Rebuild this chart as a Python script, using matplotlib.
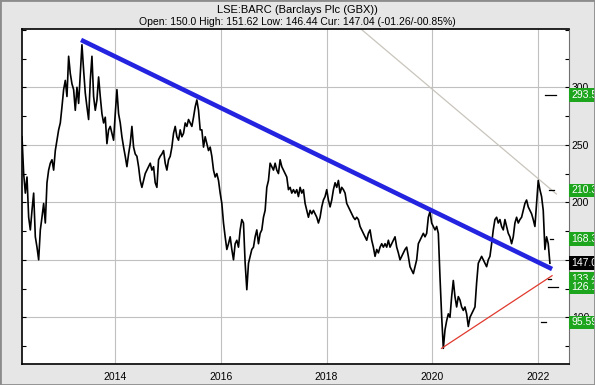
import matplotlib
matplotlib.use('Agg')
import matplotlib.pyplot as plt
import matplotlib.dates as mdates
import matplotlib.transforms as mtransforms
from matplotlib.patches import Rectangle
from matplotlib.ticker import MultipleLocator, FixedLocator
import pandas as pd

plt.rcParams['font.family'] = ['Liberation Sans', 'DejaVu Sans']

# price readings (GBX), sampled roughly every 11-12 days, Mar 2012 -> Mar 2022
prices = [
    257, 225, 208, 222, 187, 176, 193, 208, 170, 161,
    150, 176, 187, 199, 182, 217, 228, 234, 237, 228,
    245, 254, 263, 269, 283, 298, 306, 292, 327, 312,
    303, 298, 280, 300, 286, 312, 337, 315, 295, 283,
    272, 306, 327, 292, 280, 289, 309, 292, 277, 269,
    274, 251, 263, 266, 260, 254, 277, 298, 277, 269,
    257, 248, 240, 231, 242, 251, 266, 248, 242, 240,
    231, 219, 213, 219, 225, 228, 231, 234, 228, 231,
    217, 213, 237, 240, 242, 245, 234, 228, 237, 240,
    248, 260, 266, 257, 254, 263, 257, 260, 269, 266,
    272, 269, 266, 274, 283, 289, 280, 263, 263, 248,
    257, 251, 245, 248, 240, 228, 222, 225, 219, 208,
    199, 182, 170, 159, 164, 170, 159, 150, 164, 167,
    161, 176, 185, 182, 147, 124, 147, 153, 159, 161,
    170, 176, 164, 173, 176, 187, 193, 213, 219, 234,
    231, 228, 234, 228, 225, 237, 231, 228, 225, 222,
    211, 213, 208, 211,
    208, 211, 205, 213, 208, 211, 199, 193, 187, 193,
    190, 193, 190, 187, 182, 187, 196, 202, 205, 211,
    202, 196, 202, 211, 217, 213, 219, 208, 213, 211,
    208, 199, 196, 193, 190, 187, 185, 187, 185, 179,
    176, 173, 170, 167, 173, 176, 167, 161, 153, 159,
    156, 161, 164, 161, 164, 161, 167, 161, 164, 167,
    170, 161, 156, 150, 153, 156, 159, 161, 153, 144,
    141, 138, 144, 150, 164, 167, 170, 173, 170, 173,
    187, 192, 182, 179, 176, 179, 173, 135, 101, 73,
    89, 97, 103, 100, 118, 132, 118, 109, 118, 115,
    109, 106, 109, 103, 92, 100, 103, 106, 109, 130,
    147, 150, 153, 150, 147, 144, 150, 153, 164, 176,
    185, 187, 182, 185, 179, 176, 185, 179, 173, 170,
    164, 170, 182, 187, 182, 185, 187, 193, 199, 202,
    196, 193, 190, 185, 179, 199, 219, 211, 205, 193,
    159, 170, 164, 147,
]
dates = pd.date_range('2012-03-28', '2022-03-24', periods=len(prices))

# trend lines
down_dates = pd.to_datetime(['2013-05-10', '2022-04-08'])
down_vals = [341.2, 142.0]
up_dates = pd.to_datetime(['2020-03-05', '2022-04-08'])
up_vals = [73.0, 136.2]
res_dates = pd.to_datetime(['2018-08-29', '2022-05-08'])
res_vals = [350.4, 207.2]

# target levels and their markers
target_labels = ['293.50', '210.30', '168.30', '133.40', '126.10', '95.59']
target_vals = [293.5, 210.3, 168.3, 133.4, 126.1, 95.59]
target_start = pd.to_datetime(['2022-02-19', '2022-03-18', '2022-03-25',
                               '2022-03-11', '2022-03-11', '2022-01-23'])
target_end = pd.to_datetime(['2022-05-06', '2022-04-22', '2022-04-15',
                             '2022-04-01', '2022-05-20', '2022-02-26'])
current = 147.04

price_ticks = [100, 150, 200, 250, 300]

title = 'LSE:BARC (Barclays Plc (GBX))'
subtitle = 'Open: 150.0 High: 151.62 Low: 146.44 Cur: 147.04 (-01.26/-00.85%)'

W, H = 595, 385
fig = plt.figure(figsize=(W / 100, H / 100), dpi=100, facecolor='#e6e6e6')
ax = fig.add_axes([22 / W, 21 / H, 547 / W, 335 / H])
ax.set_facecolor('white')

ax.plot(dates, prices, color='black', lw=1.2, zorder=3)
ax.plot(down_dates, down_vals, color='#2424e0', lw=3.3, solid_capstyle='butt', zorder=4)
ax.plot(up_dates, up_vals, color='#e03a2e', lw=0.9, zorder=4)
ax.plot(res_dates, res_vals, color='#c9c5bd', lw=0.9, zorder=2)
for v, s, e in zip(target_vals, target_start, target_end):
    ax.plot([s, e], [v, v], color='black', lw=0.9, zorder=4)

ax.set_xlim(pd.Timestamp('2012-03-28'), pd.Timestamp('2022-08-03'))
ax.set_ylim(59.4, 350.7)

ax.xaxis.set_major_locator(mdates.YearLocator(2))
ax.xaxis.set_major_formatter(mdates.DateFormatter('%Y'))
ax.yaxis.set_major_locator(FixedLocator(price_ticks))
ax.yaxis.set_minor_locator(MultipleLocator(25))
ax.grid(True, which='major', color='#c0c0c0', lw=0.8)
ax.set_axisbelow(True)

ax.tick_params(axis='x', length=0, labelsize=7.5, pad=6)
ax.tick_params(axis='y', which='both', direction='in', left=True, right=True,
               labelleft=False, labelright=True, labelsize=7.5, pad=2,
               length=3, width=0.8)
for sp in ['left', 'bottom', 'top']:
    ax.spines[sp].set_linewidth(1.2)
    ax.spines[sp].set_color('black')
ax.spines['right'].set_color('#707070')

trans = mtransforms.blended_transform_factory(ax.transAxes, ax.transData)
for lab, v in zip(target_labels, target_vals):
    ax.text(1.004, v, lab, transform=trans, color='white', fontsize=7.5,
            va='center', ha='left', clip_on=False, zorder=6,
            bbox=dict(boxstyle='square,pad=0.18', fc='#1ea51e', ec='none'))
ax.text(1.004, current, '%.2f' % current, transform=trans, color='white',
        fontsize=7.5, va='center', ha='left', clip_on=False, zorder=6,
        bbox=dict(boxstyle='square,pad=0.18', fc='black', ec='none'))

fig.text(0.5, 1 - 10 / H, title, ha='center', va='center', fontsize=8)
fig.text(0.5, 1 - 22 / H, subtitle, ha='center', va='center', fontsize=7.5)

fig.patches.append(Rectangle((0, 0), 1, 1, transform=fig.transFigure, fill=False,
                             ec='#8c8c8c', lw=2.0, zorder=10))

fig.savefig('out.png', dpi=100, facecolor=fig.get_facecolor())
